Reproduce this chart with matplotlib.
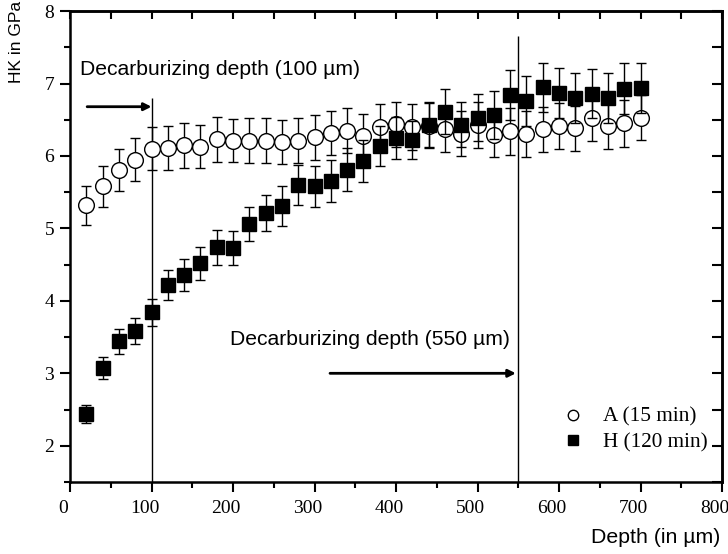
import numpy as np
import matplotlib
matplotlib.use("Agg")
import matplotlib.pyplot as plt
import matplotlib.transforms as mtransforms
from matplotlib.ticker import MultipleLocator
from matplotlib.lines import Line2D

depth = [20, 40, 60, 80, 100, 120, 140, 160, 180, 200, 220, 240, 260, 280, 300,
         320, 340, 360, 380, 400, 420, 440, 460, 480, 500, 520, 540, 560, 580,
         600, 620, 640, 660, 680, 700]
hk_a = [5.32, 5.58, 5.81, 5.95, 6.10, 6.11, 6.15, 6.13, 6.23, 6.21, 6.21, 6.21,
        6.19, 6.21, 6.26, 6.32, 6.35, 6.27, 6.40, 6.44, 6.40, 6.42, 6.37, 6.31,
        6.43, 6.29, 6.34, 6.30, 6.37, 6.41, 6.38, 6.53, 6.41, 6.45, 6.53]
err_a = [0.27, 0.28, 0.29, 0.30, 0.30, 0.30, 0.31, 0.30, 0.31, 0.30, 0.31, 0.31,
         0.30, 0.31, 0.31, 0.30, 0.31, 0.31, 0.32, 0.31, 0.32, 0.31, 0.31, 0.31,
         0.32, 0.31, 0.32, 0.32, 0.31, 0.32, 0.31, 0.32, 0.32, 0.32, 0.31]
hk_h = [2.44, 3.07, 3.44, 3.59, 3.84, 4.22, 4.36, 4.52, 4.74, 4.73, 5.06, 5.21,
        5.31, 5.60, 5.58, 5.65, 5.81, 5.93, 6.14, 6.25, 6.22, 6.43, 6.61, 6.43,
        6.53, 6.56, 6.84, 6.76, 6.95, 6.87, 6.80, 6.86, 6.80, 6.93, 6.94]
err_h = [0.12, 0.15, 0.17, 0.18, 0.19, 0.21, 0.22, 0.23, 0.24, 0.24, 0.24, 0.25,
         0.27, 0.28, 0.28, 0.29, 0.30, 0.29, 0.28, 0.29, 0.26, 0.31, 0.31, 0.31,
         0.33, 0.33, 0.34, 0.35, 0.34, 0.34, 0.34, 0.34, 0.34, 0.35, 0.35]
label_a = "A (15 min)"
label_h = "H (120 min)"
decarb_depths = [100, 550]
decarb_texts = ["Decarburizing depth (100 µm)", "Decarburizing depth (550 µm)"]

serif = ["Liberation Serif", "DejaVu Serif"]
sans = ["Liberation Sans", "DejaVu Sans"]

fig = plt.figure(figsize=(7.28, 5.54), dpi=100)
ax = fig.add_axes([0.0962, 0.130, 0.8956, 0.850])

ax.errorbar(depth, hk_a, yerr=err_a, fmt='o', ms=11.3, mfc='white', mec='black',
            mew=1.0, ecolor='black', elinewidth=1.0, capsize=3.9, capthick=1.0,
            zorder=3)
ax.errorbar(depth, hk_h, yerr=err_h, fmt='s', ms=9.8, mfc='black', mec='black',
            mew=1.0, ecolor='black', elinewidth=1.0, capsize=3.9, capthick=1.0,
            zorder=4)

ax.vlines(decarb_depths[0], 1.5, 6.8, color='black', lw=1.0, zorder=2)
ax.vlines(decarb_depths[1], 1.5, 7.66, color='black', lw=1.0, zorder=2)

ax.annotate("", xy=(decarb_depths[0], 6.68), xytext=(21, 6.68),
            arrowprops=dict(arrowstyle='-|>', lw=2.0, color='black',
                            mutation_scale=11, shrinkA=0, shrinkB=0))
ax.annotate("", xy=(547, 3.0), xytext=(319, 3.0),
            arrowprops=dict(arrowstyle='-|>', lw=2.0, color='black',
                            mutation_scale=11, shrinkA=0, shrinkB=0))
ax.text(12, 7.19, decarb_texts[0], family=sans, fontsize=15.2, va='center', ha='left')
ax.text(196, 3.46, decarb_texts[1], family=sans, fontsize=15.2, va='center', ha='left')

ax.set_xlim(0, 800)
ax.set_ylim(1.5, 8)
ax.xaxis.set_major_locator(MultipleLocator(100))
ax.xaxis.set_minor_locator(MultipleLocator(50))
ax.yaxis.set_major_locator(MultipleLocator(1))
ax.yaxis.set_minor_locator(MultipleLocator(0.5))
ax.tick_params(which='both', direction='out', width=1.5, labelsize=14)
ax.tick_params(which='major', length=7.5)
ax.tick_params(which='minor', length=4)
ax.tick_params(axis='x', which='major', pad=5.5)
ax.tick_params(axis='y', which='major', pad=4.0)
for s in ax.spines.values():
    s.set_linewidth(1.8)

fig.canvas.draw()
shift = mtransforms.ScaledTranslation(-0.07, 0, fig.dpi_scale_trans)
for lab in ax.get_xticklabels():
    lab.set_family(serif)
    lab.set_transform(lab.get_transform() + shift)
for lab in ax.get_yticklabels():
    lab.set_family(serif)

# top and right inward ticks
sec_x = ax.secondary_xaxis('top')
sec_x.xaxis.set_major_locator(MultipleLocator(50))
sec_x.tick_params(direction='in', length=6, width=1.5, labeltop=False)
sec_x.spines['top'].set_linewidth(1.8)
sec_y = ax.secondary_yaxis('right')
sec_y.yaxis.set_major_locator(MultipleLocator(0.5))
sec_y.tick_params(direction='in', length=7, width=1.5, labelright=False)
sec_y.spines['right'].set_linewidth(1.8)

fig.text(0.023, 0.924, "HK in GPa", family=sans, fontsize=12.5, rotation=90,
         ha='center', va='center')
fig.text(0.990, 0.029, "Depth (in µm)", family=sans, fontsize=15.3,
         ha='right', va='center')

handles = [Line2D([], [], ls='none', marker='o', ms=7.5, mfc='white', mec='black', mew=1.0),
           Line2D([], [], ls='none', marker='s', ms=7.2, mfc='black', mec='black', mew=1.0)]
ax.legend(handles, [label_a, label_h], loc='upper left', bbox_to_anchor=(0.755, 0.159),
          frameon=False, prop={'family': serif, 'size': 15.3}, handlelength=1.0,
          handletextpad=0.92, labelspacing=0.27, borderaxespad=0, borderpad=0)

fig.savefig("out.png", dpi=100)
